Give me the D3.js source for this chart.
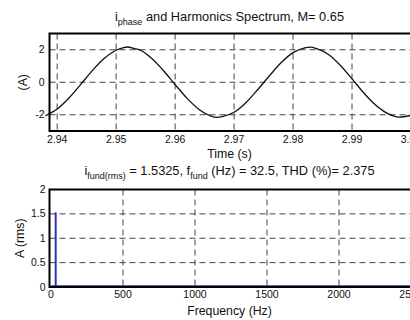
<!DOCTYPE html>
<html>
<head>
<meta charset="utf-8">
<script src="https://cdn.jsdelivr.net/npm/d3@7"></script>
<style>
  body { margin: 0; background: #fff; }
  svg { display: block; font-family: "Liberation Sans", Arial, sans-serif; }
  .grid line { stroke: #444; stroke-dasharray: 6,4; stroke-width: 1; }
  .tick-label { font-size: 10.5px; fill: #111; }
</style>
</head>
<body>
<div id="chart"></div>
<script>
// time trace (s, A)
const timeVals = [2.938, 2.940, 2.942, 2.944, 2.946, 2.948, 2.950, 2.951, 2.952, 2.953, 2.954, 2.956,
                  2.958, 2.960, 2.962, 2.964, 2.966, 2.967, 2.968, 2.970, 2.972, 2.974, 2.976,
                  2.978, 2.980, 2.982, 2.983, 2.984, 2.986, 2.988, 2.990, 2.992, 2.994, 2.996,
                  2.998, 3.000];
const currentVals = [-2.06, -1.65, -0.97, -0.13, 0.73, 1.47, 1.97, 2.10, 2.17, 2.08, 1.99, 1.47,
                     0.72, -0.14, -0.98, -1.66, -2.07, -2.16, -2.11, -1.85, -1.26, -0.46, 0.40,
                     1.21, 1.82, 2.12, 2.16, 2.07, 1.71, 1.05, 0.21, -0.66, -1.40, -1.92,
                     -2.15, -2.03];
const timeTicks = [2.94, 2.95, 2.96, 2.97, 2.98, 2.99, 3.0];
const currentTicks = [-2, 0, 2];

// harmonic spectrum (Hz, A rms)
const specFreq = [32.5, 65, 97.5, 162.5, 227.5, 357.5, 747.5, 1007.5, 1527.5, 2047.5];
const specAmp  = [1.5325, 0.012, 0.008, 0.010, 0.006, 0.005, 0.004, 0.003, 0.003, 0.002];
const freqTicks = [0, 500, 1000, 1500, 2000, 2500];
const ampTicks = [0, 0.5, 1, 1.5, 2];

const W = 410, H = 320;
const svg = d3.select("#chart").append("svg")
    .attr("width", W).attr("height", H);

const left = 49.5, right = 411;

// ---------- top panel ----------
const top1 = 33.5, bot1 = 131;
const x1 = d3.scaleLinear().domain([2.9387, 3.0]).range([left, right]);
const y1 = d3.scaleLinear().domain([-3, 3]).range([bot1, top1]);

const g1 = svg.append("g");
const grid1 = g1.append("g").attr("class", "grid");
grid1.selectAll(".vx").data(timeTicks).enter().append("line")
    .attr("x1", d => x1(d)).attr("x2", d => x1(d))
    .attr("y1", top1).attr("y2", bot1);
grid1.selectAll(".hy").data(currentTicks).enter().append("line")
    .attr("x1", left).attr("x2", right)
    .attr("y1", d => y1(d)).attr("y2", d => y1(d));

g1.append("path")
    .datum(timeVals.map((t, i) => [t, currentVals[i]]))
    .attr("fill", "none")
    .attr("stroke", "#111")
    .attr("stroke-width", 1.3)
    .attr("d", d3.line().x(d => x1(d[0])).y(d => y1(d[1])).curve(d3.curveMonotoneX));

g1.append("rect")
    .attr("x", left).attr("y", top1)
    .attr("width", right - left + 5).attr("height", bot1 - top1)
    .attr("fill", "none").attr("stroke", "#000").attr("stroke-width", 2);

g1.selectAll(".xl").data(timeTicks).enter().append("text")
    .attr("class", "tick-label")
    .attr("x", d => x1(d)).attr("y", bot1 + 12)
    .attr("text-anchor", "middle")
    .text(d => d3.format(".2f")(d));
g1.selectAll(".yl").data(currentTicks).enter().append("text")
    .attr("class", "tick-label")
    .attr("x", left - 5).attr("y", d => y1(d) + 3.5)
    .attr("text-anchor", "end")
    .text(d => d);

const t1 = svg.append("text")
    .attr("x", 229.5).attr("y", 21)
    .attr("text-anchor", "middle")
    .attr("font-size", 12.8).attr("fill", "#111");
t1.append("tspan").text("i");
t1.append("tspan").attr("dy", 4).attr("font-size", 9).text("phase");
t1.append("tspan").attr("dy", -4).text(" and Harmonics Spectrum, M= 0.65");

svg.append("text")
    .attr("x", 229.5).attr("y", 158)
    .attr("text-anchor", "middle")
    .attr("font-size", 12.3).attr("fill", "#111")
    .text("Time (s)");

svg.append("text")
    .attr("transform", `translate(27,${(top1 + bot1) / 2}) rotate(-90)`)
    .attr("text-anchor", "middle")
    .attr("font-size", 12.3).attr("fill", "#111")
    .text("(A)");

// ---------- bottom panel ----------
const top2 = 189.5, bot2 = 287;
const x2 = d3.scaleLinear().domain([0, 2500]).range([left + 1.5, right]);
const y2 = d3.scaleLinear().domain([0, 2]).range([bot2, top2]);

const g2 = svg.append("g");
const grid2 = g2.append("g").attr("class", "grid");
grid2.selectAll(".vx").data(freqTicks.slice(1)).enter().append("line")
    .attr("x1", d => x2(d)).attr("x2", d => x2(d))
    .attr("y1", top2).attr("y2", bot2);
grid2.selectAll(".hy").data(ampTicks.slice(1, -1)).enter().append("line")
    .attr("x1", left).attr("x2", right)
    .attr("y1", d => y2(d)).attr("y2", d => y2(d));

// spectrum baseline + harmonic lines
g2.append("line")
    .attr("x1", x2(0)).attr("x2", x2(2500))
    .attr("y1", y2(0) - 1).attr("y2", y2(0) - 1)
    .attr("stroke", "#2a2a9a").attr("stroke-width", 1.5);
g2.selectAll(".bar").data(specFreq).enter().append("line")
    .attr("x1", d => x2(d)).attr("x2", d => x2(d))
    .attr("y1", y2(0)).attr("y2", (d, i) => y2(specAmp[i]))
    .attr("stroke", "#3030c0").attr("stroke-width", 2);

g2.append("rect")
    .attr("x", left).attr("y", top2)
    .attr("width", right - left + 5).attr("height", bot2 - top2)
    .attr("fill", "none").attr("stroke", "#000").attr("stroke-width", 2);

g2.selectAll(".xl").data(freqTicks).enter().append("text")
    .attr("class", "tick-label")
    .attr("x", d => x2(d)).attr("y", 298)
    .attr("text-anchor", "middle")
    .text(d => d);
g2.selectAll(".yl").data(ampTicks).enter().append("text")
    .attr("class", "tick-label")
    .attr("x", left - 4).attr("y", d => y2(d) + 3.5)
    .attr("text-anchor", "end")
    .text(d => d);

const t2 = svg.append("text")
    .attr("x", 229.5).attr("y", 175)
    .attr("text-anchor", "middle")
    .attr("font-size", 12.8).attr("fill", "#111");
t2.append("tspan").text("i");
t2.append("tspan").attr("dy", 4).attr("font-size", 9).text("fund(rms)");
t2.append("tspan").attr("dy", -4).text(" = 1.5325, f");
t2.append("tspan").attr("dy", 4).attr("font-size", 9).text("fund");
t2.append("tspan").attr("dy", -4).text(" (Hz) = 32.5, THD (%)= 2.375");

svg.append("text")
    .attr("x", 229.5).attr("y", 315)
    .attr("text-anchor", "middle")
    .attr("font-size", 12.3).attr("fill", "#111")
    .text("Frequency (Hz)");

svg.append("text")
    .attr("transform", `translate(24,${(top2 + bot2) / 2}) rotate(-90)`)
    .attr("text-anchor", "middle")
    .attr("font-size", 12.3).attr("fill", "#111")
    .text("A (rms)");
</script>
</body>
</html>
